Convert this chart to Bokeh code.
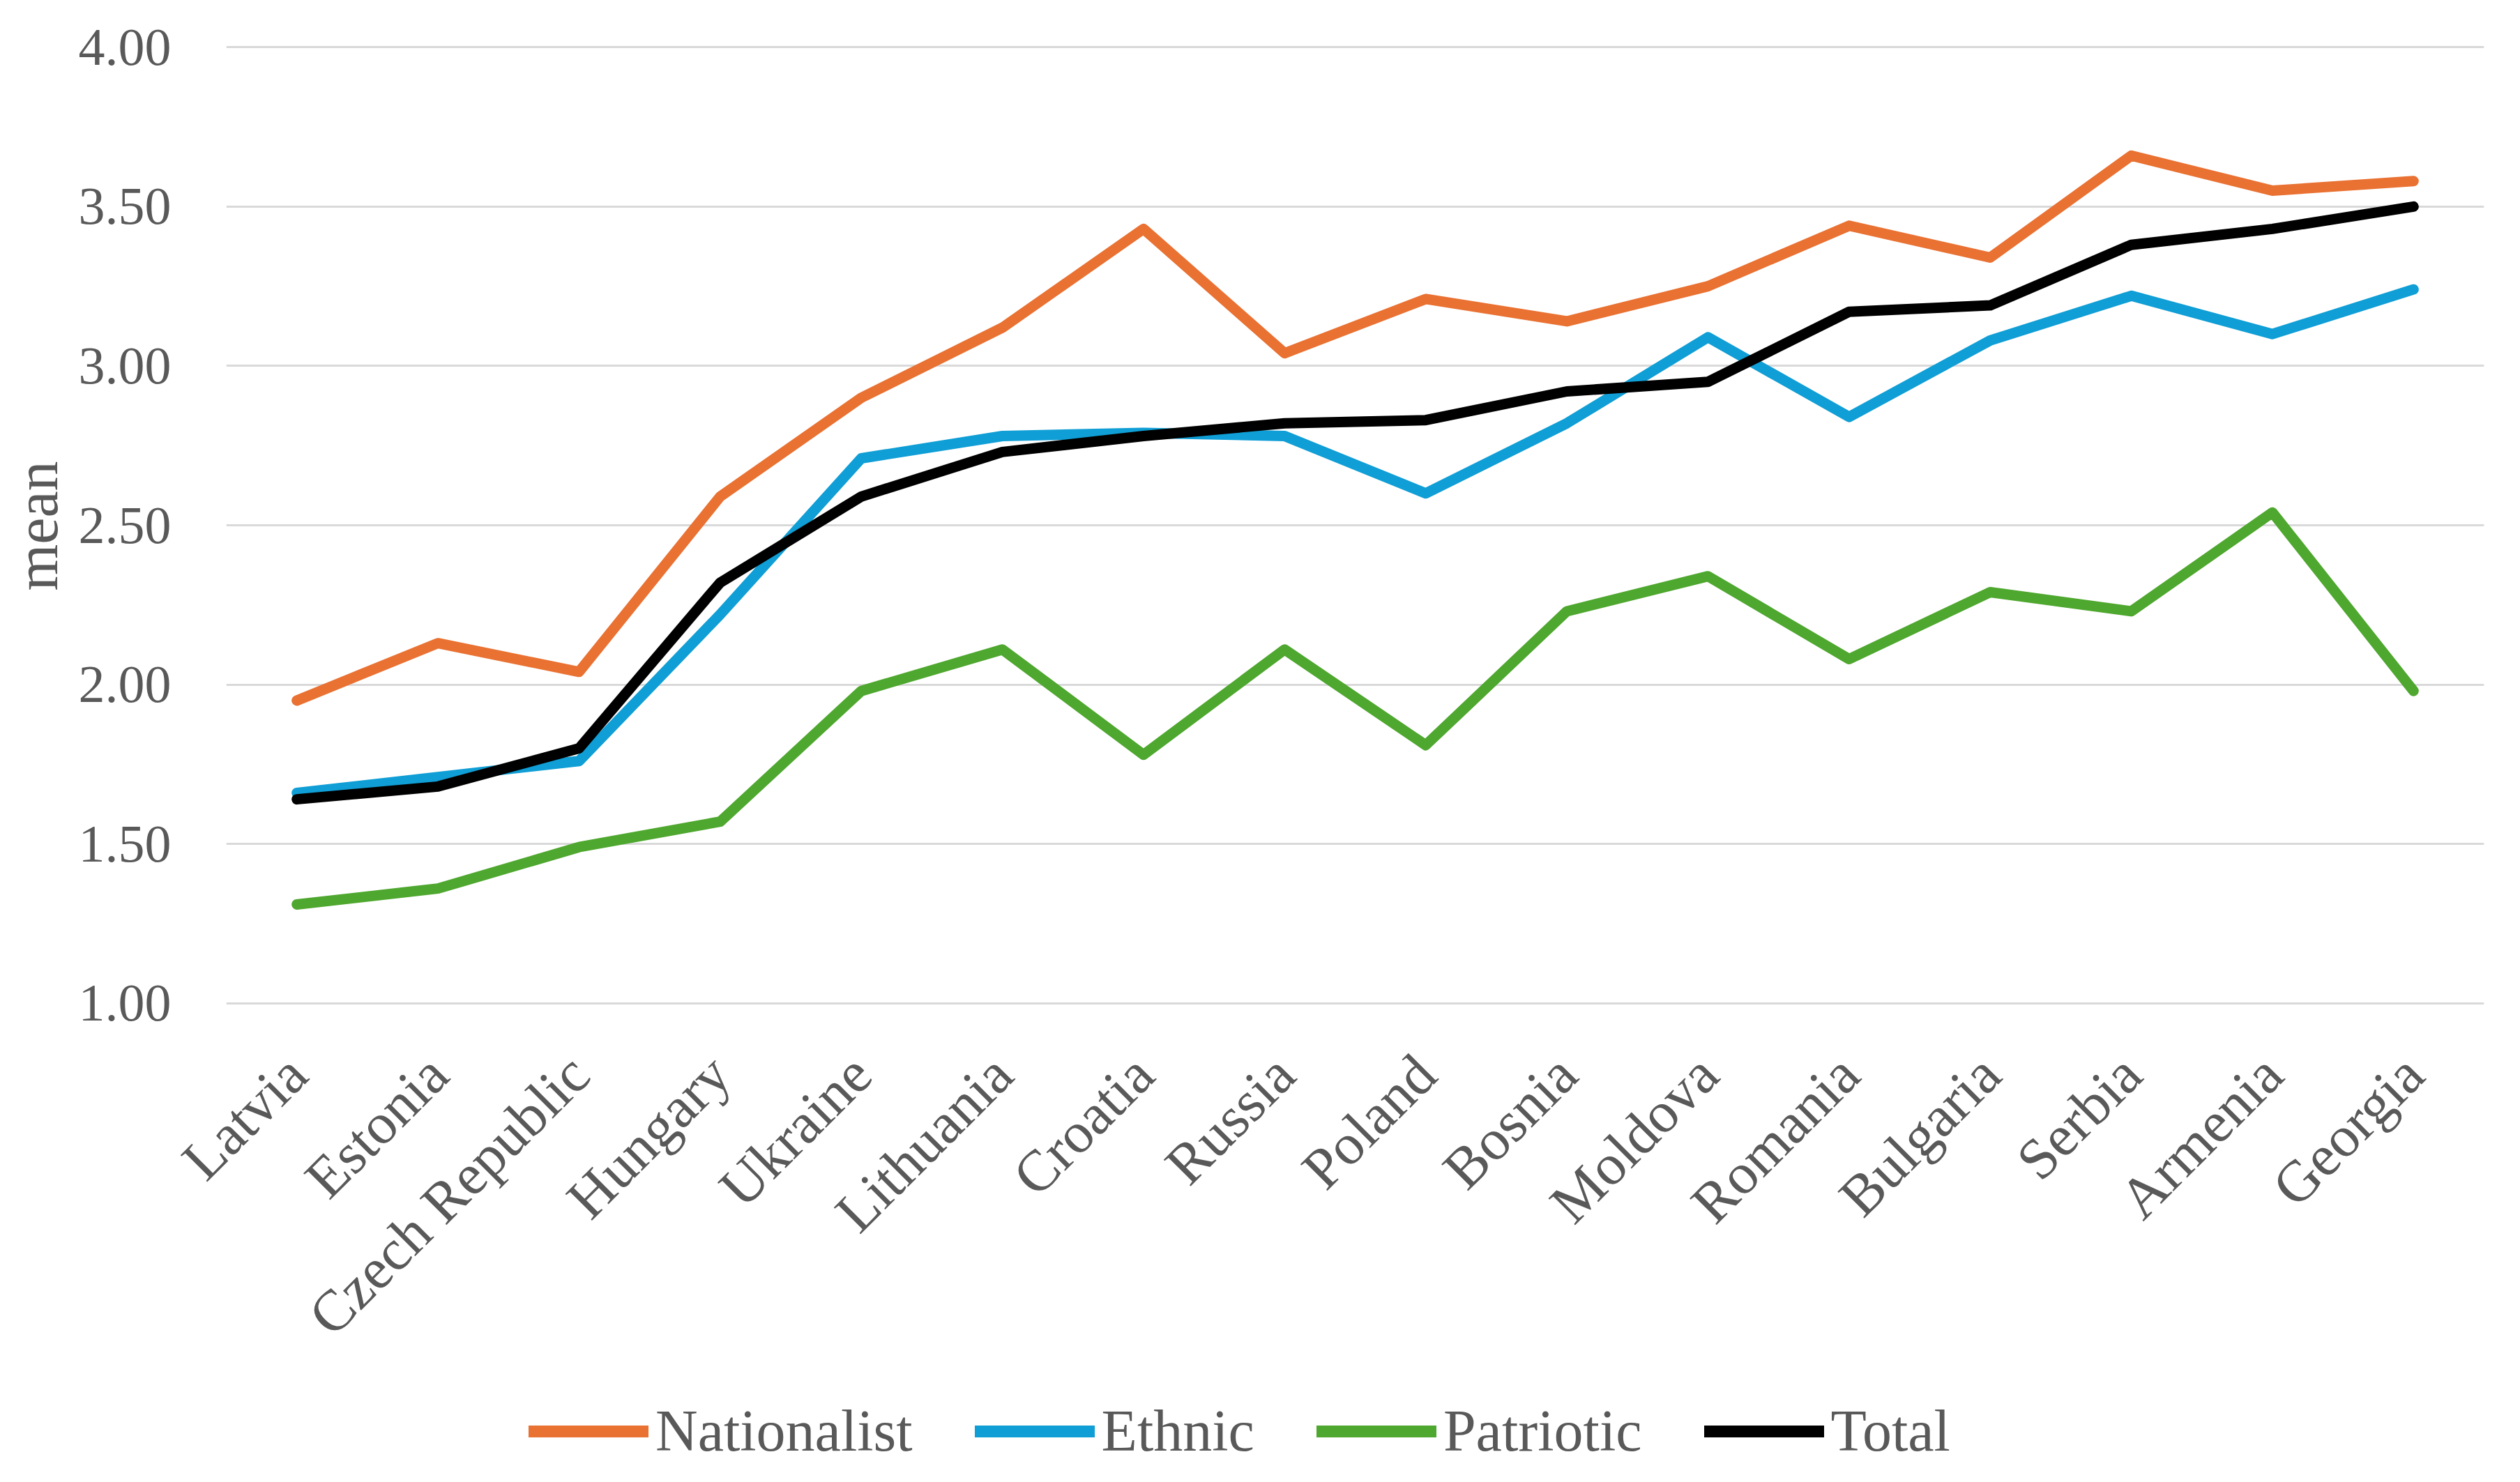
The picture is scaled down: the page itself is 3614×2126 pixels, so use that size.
import math
from bokeh.plotting import figure
from bokeh.layouts import row, column
from bokeh.models import (Range1d, FactorRange, FixedTicker, NumeralTickFormatter,
                          Legend, LegendItem)
from bokeh.core.properties import value
from bokeh.embed import file_html
from bokeh.resources import INLINE

countries = ["Latvia", "Estonia", "Czech Republic", "Hungary", "Ukraine", "Lithuania",
             "Croatia", "Russia", "Poland", "Bosnia", "Moldova", "Romania", "Bulgaria",
             "Serbia", "Armenia", "Georgia"]
nationalist = [1.95, 2.13, 2.04, 2.59, 2.90, 3.12, 3.43, 3.04, 3.21, 3.14, 3.25, 3.44, 3.34, 3.66, 3.55, 3.58]
ethnic = [1.66, 1.71, 1.76, 2.22, 2.71, 2.78, 2.79, 2.78, 2.60, 2.82, 3.09, 2.84, 3.08, 3.22, 3.10, 3.24]
patriotic = [1.31, 1.36, 1.49, 1.57, 1.98, 2.11, 1.78, 2.11, 1.81, 2.23, 2.34, 2.08, 2.29, 2.23, 2.54, 1.98]
total = [1.64, 1.68, 1.80, 2.32, 2.59, 2.73, 2.78, 2.82, 2.83, 2.92, 2.95, 3.17, 3.19, 3.38, 3.43, 3.50]

series_names = ["Nationalist", "Ethnic", "Patriotic", "Total"]
series_values = [nationalist, ethnic, patriotic, total]
series_colors = ["#E97132", "#0F9ED5", "#4EA72E", "#000000"]
y_ticks = [1.0, 1.5, 2.0, 2.5, 3.0, 3.5, 4.0]
y_label = "mean"

FONT = "Liberation Serif"
TXT = "#595959"
LW = 15

TOTAL_W, TOTAL_H = 3598, 2110
LEFT_W = 104            # strip holding the y-axis title
LEG_H = 124             # strip holding the legend
MAIN_W = TOTAL_W - LEFT_W
MAIN_H = TOTAL_H - LEG_H
TOP = 65
FRAME_H = 1376
FRAME_LEFT = 324


def bare(fig):
    fig.outline_line_color = None
    fig.background_fill_color = "white"
    fig.border_fill_color = "white"
    return fig


# ---- y-axis title strip ----
pl = bare(figure(width=LEFT_W, height=TOTAL_H, x_range=Range1d(0, LEFT_W),
                 y_range=Range1d(0, TOTAL_H), x_axis_type=None, y_axis_type=None,
                 output_backend="svg", toolbar_location=None, title_location=None,
                 min_border=0))
pl.xgrid.visible = False
pl.ygrid.visible = False
pl.text(x=[52], y=[TOTAL_H - 754], text=[y_label], angle=math.pi / 2,
        text_align="center", text_baseline="alphabetic",
        text_font=value(FONT), text_font_size="86px", text_color=TXT)

# ---- main chart ----
p = bare(figure(x_range=FactorRange(factors=countries), y_range=Range1d(0.995, 4.005),
                width=MAIN_W, height=MAIN_H, output_backend="svg", toolbar_location=None,
                min_border_left=FRAME_LEFT - LEFT_W, min_border_right=36, min_border_top=TOP,
                min_border_bottom=MAIN_H - TOP - FRAME_H))

p.xgrid.grid_line_color = None
ticker = FixedTicker(ticks=y_ticks)
p.yaxis.ticker = ticker
p.ygrid.ticker = ticker
p.ygrid.grid_line_color = "#D9D9D9"
p.ygrid.grid_line_width = 3
p.yaxis.formatter = NumeralTickFormatter(format="0.00")

for ax in (p.xaxis[0], p.yaxis[0]):
    ax.axis_line_color = None
    ax.major_tick_line_color = None
    ax.minor_tick_line_color = None
    ax.major_tick_out = 0
    ax.major_tick_in = 0
    ax.minor_tick_out = 0
    ax.minor_tick_in = 0
    ax.major_label_text_font = FONT
    ax.major_label_text_color = TXT

p.yaxis.major_label_text_font_size = "76px"
p.yaxis.major_label_standoff = 79
p.xaxis.major_label_text_font_size = "83px"
p.xaxis.major_label_orientation = math.pi / 4
p.xaxis.major_label_standoff = 86

for vals, col in zip(series_values, series_colors):
    p.line(x=countries, y=vals, line_color=col, line_width=LW,
           line_cap="round", line_join="round")

# ---- legend strip ----
pg = bare(figure(width=MAIN_W, height=LEG_H, x_range=Range1d(0, 1), y_range=Range1d(0, 1),
                 x_axis_type=None, y_axis_type=None, output_backend="svg",
                 toolbar_location=None, title_location=None, min_border=0))
pg.xgrid.visible = False
pg.ygrid.visible = False
items = []
for name, col in zip(series_names, series_colors):
    # off-range points: only the legend swatch is shown
    r = pg.line(x=[5, 6], y=[5, 6], line_color=col, line_width=17, line_cap="round")
    items.append(LegendItem(label=name, renderers=[r]))
legend = Legend(items=items, orientation="horizontal", location=(434, 9),
                glyph_width=172, glyph_height=40, label_standoff=10, spacing=89,
                padding=0, margin=0, border_line_color=None, background_fill_alpha=0,
                label_text_font=FONT, label_text_font_size="84px", label_text_color=TXT)
pg.add_layout(legend, "center")

layout = row(pl, column(p, pg, spacing=0), spacing=0)
open("out.html", "w").write(file_html(layout, INLINE))
